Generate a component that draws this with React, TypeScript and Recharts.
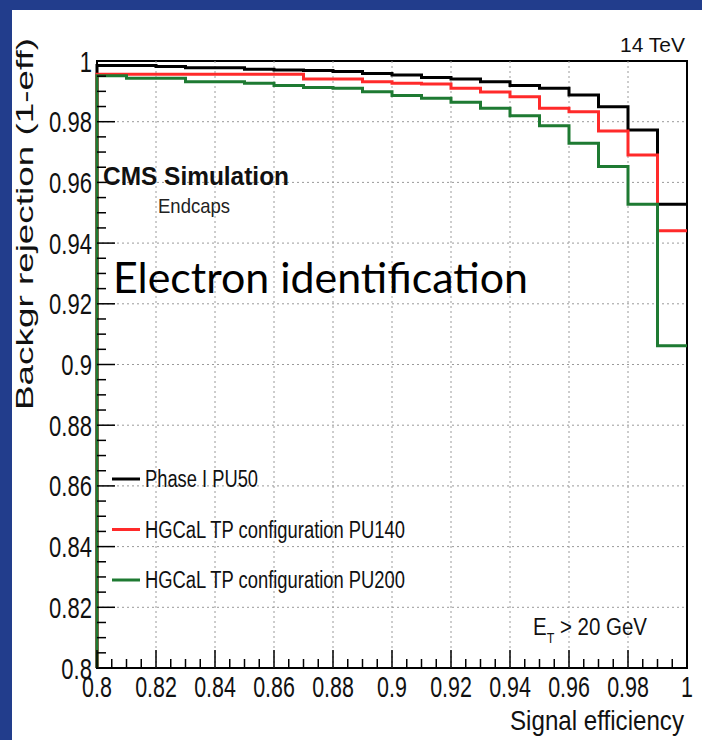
import React from "react";
import { LineChart, Line, XAxis, YAxis, ReferenceLine, ReferenceArea } from "recharts";

// 信号効率のビン下端 (幅 0.01)
const binEdges = [
  0.8, 0.81, 0.82, 0.83, 0.84, 0.85, 0.86, 0.87, 0.88, 0.89,
  0.9, 0.91, 0.92, 0.93, 0.94, 0.95, 0.96, 0.97, 0.98, 0.99,
];
// 各ビンの背景除去率 (1-eff)
const phase1PU50 = [
  0.9985, 0.9985, 0.9982, 0.9978, 0.9978, 0.9973, 0.997, 0.9969, 0.9965, 0.9959,
  0.9954, 0.9946, 0.9941, 0.9932, 0.9919, 0.991, 0.9888, 0.9849, 0.9773, 0.9528,
];
const hgcalPU140 = [
  0.9956, 0.9956, 0.9956, 0.9956, 0.9956, 0.9956, 0.9956, 0.9941, 0.9941, 0.9932,
  0.9927, 0.9924, 0.991, 0.9898, 0.9882, 0.9844, 0.9833, 0.9769, 0.969, 0.9441,
];
const hgcalPU200 = [
  0.9951, 0.9943, 0.9943, 0.9932, 0.9932, 0.9927, 0.9919, 0.9913, 0.991, 0.9899,
  0.9886, 0.9877, 0.9864, 0.9844, 0.982, 0.9787, 0.9729, 0.9652, 0.9528, 0.9062,
];

const xTicks = [0.8, 0.82, 0.84, 0.86, 0.88, 0.9, 0.92, 0.94, 0.96, 0.98, 1];
const xTickLabels = ["0.8", "0.82", "0.84", "0.86", "0.88", "0.9", "0.92", "0.94", "0.96", "0.98", "1"];
const yTicks = [0.8, 0.82, 0.84, 0.86, 0.88, 0.9, 0.92, 0.94, 0.96, 0.98, 1];
const yTickLabels = ["0.8", "0.82", "0.84", "0.86", "0.88", "0.9", "0.92", "0.94", "0.96", "0.98", "1"];

const legendNames = ["Phase I PU50", "HGCaL TP configuration PU140", "HGCaL TP configuration PU200"];
const colors = { black: "#000000", red: "#ff2a2a", green: "#1e7a32" };

const X_MIN = 0.8;
const X_MAX = 1;
const Y_MIN = 0.8;
const Y_MAX = 1;

// 副目盛 (0.005 刻み)
const minorTicks: number[] = [];
for (let i = 0; i <= 40; i++) minorTicks.push(Math.round((0.8 + 0.005 * i) * 1000) / 1000);

// ヒストグラムの輪郭: 左端は下限から立ち上がる
const data = [
  { x: X_MIN, black: Y_MIN, red: Y_MIN, green: Y_MIN },
  ...binEdges.map((e, i) => ({ x: e, black: phase1PU50[i], red: hgcalPU140[i], green: hgcalPU200[i] })),
  {
    x: X_MAX,
    black: phase1PU50[phase1PU50.length - 1],
    red: hgcalPU140[hgcalPU140.length - 1],
    green: hgcalPU200[hgcalPU200.length - 1],
  },
];

const FONT = "'Liberation Sans', Arial, Helvetica, sans-serif";

const majorIndex = (ticks: number[], v: number) => ticks.findIndex((t) => Math.abs(t - v) < 1e-6);

const XTick = (props: any) => {
  const { x, y, payload } = props;
  const i = majorIndex(xTicks, payload.value);
  const major = i >= 0;
  return (
    <g>
      <line x1={x} x2={x} y1={y} y2={y - (major ? 18 : 9)} stroke="#000" strokeWidth={1.5} />
      {major && (
        <text
          transform={`translate(${x},${y + 29}) scale(0.74,1)`}
          textAnchor="middle"
          fontSize={29}
          fontFamily={FONT}
          fill="#111"
        >
          {xTickLabels[i]}
        </text>
      )}
    </g>
  );
};

const YTick = (props: any) => {
  const { x, y, payload } = props;
  const i = majorIndex(yTicks, payload.value);
  const major = i >= 0;
  return (
    <g>
      <line x1={x} x2={x + (major ? 18 : 9)} y1={y} y2={y} stroke="#000" strokeWidth={1.5} />
      {major && (
        <text
          transform={`translate(${x - 5},${y + 10.5}) scale(0.76,1)`}
          textAnchor="end"
          fontSize={29}
          fontFamily={FONT}
          fill="#111"
        >
          {yTickLabels[i]}
        </text>
      )}
    </g>
  );
};

const legendColors = [colors.black, colors.red, colors.green];
const legendWidths = [113, 260, 260];

export default function App() {
  return (
    <div style={{ position: "absolute", left: 0, top: 0, width: 702, height: 740, background: "#223d8c", overflow: "hidden" }}>
      <div style={{ position: "absolute", left: 12, top: 10, width: 690, height: 730, background: "#fff" }} />
      <div style={{ position: "absolute", left: 0, top: 0 }}>
        <LineChart width={702} height={740} data={data} margin={{ top: 61, right: 15, bottom: 42, left: 57 }}>
          <XAxis
            dataKey="x"
            type="number"
            domain={[X_MIN, X_MAX]}
            ticks={minorTicks}
            interval={0}
            tick={<XTick />}
            tickLine={false}
            tickSize={0}
            tickMargin={0}
            height={30}
            axisLine={false}
          />
          <YAxis
            type="number"
            domain={[Y_MIN, Y_MAX]}
            ticks={minorTicks}
            interval={0}
            tick={<YTick />}
            tickLine={false}
            tickSize={0}
            tickMargin={0}
            width={40}
            axisLine={false}
          />
          {xTicks.slice(1, -1).map((v) => (
            <ReferenceLine key={"gx" + v} x={v} stroke="#9a9a9a" strokeDasharray="2 3" strokeWidth={1} />
          ))}
          {yTicks.slice(1, -1).map((v) => (
            <ReferenceLine key={"gy" + v} y={v} stroke="#9a9a9a" strokeDasharray="2 3" strokeWidth={1} />
          ))}
          <Line type="stepAfter" dataKey="black" stroke={colors.black} strokeWidth={3} dot={false} isAnimationActive={false} />
          <Line type="stepAfter" dataKey="red" stroke={colors.red} strokeWidth={3} dot={false} isAnimationActive={false} />
          <Line type="stepAfter" dataKey="green" stroke={colors.green} strokeWidth={3} dot={false} isAnimationActive={false} />
          <ReferenceArea x1={X_MIN} x2={X_MAX} y1={Y_MIN} y2={Y_MAX} fill="none" stroke="#000" strokeWidth={2} />
        </LineChart>
      </div>
      <svg width={702} height={740} style={{ position: "absolute", left: 0, top: 0, pointerEvents: "none" }}>
        <text x={685} y={52} textAnchor="end" fontSize={21} fontFamily={FONT} fill="#111">
          14 TeV
        </text>
        <text x={103} y={185} fontSize={25} fontWeight="bold" fontFamily={FONT} fill="#111" textLength={186} lengthAdjust="spacingAndGlyphs">
          CMS Simulation
        </text>
        <text x={158} y={213} fontSize={21} fontFamily={FONT} fill="#222" textLength={72} lengthAdjust="spacingAndGlyphs">
          Endcaps
        </text>
        <text x={113} y={293} fontSize={42} fontFamily="Lato, 'Open Sans', sans-serif" fill="#000" textLength={415} lengthAdjust="spacingAndGlyphs">
          Electron identification
        </text>
        {legendNames.map((name, i) => (
          <g key={name}>
            <line x1={112} x2={140} y1={479 + i * 50.5} y2={479 + i * 50.5} stroke={legendColors[i]} strokeWidth={3} />
            <text x={145} y={487 + i * 50.5} fontSize={23} fontFamily={FONT} fill="#111" textLength={legendWidths[i]} lengthAdjust="spacingAndGlyphs">
              {name}
            </text>
          </g>
        ))}
        <text transform="translate(533,635) scale(0.89,1)" fontSize={23} fontFamily={FONT} fill="#111">
          E
          <tspan fontSize={14} dy={8}>T</tspan>
          <tspan dy={-8}> &gt; 20 GeV</tspan>
        </text>
        <text x={510} y={730} fontSize={27} fontFamily={FONT} fill="#111" textLength={174} lengthAdjust="spacingAndGlyphs">
          Signal efficiency
        </text>
        <text transform="translate(33,410) rotate(-90)" fontSize={24} fontFamily={FONT} fill="#111" textLength={372} lengthAdjust="spacingAndGlyphs">
          Backgr rejection (1-eff)
        </text>
      </svg>
    </div>
  );
}
